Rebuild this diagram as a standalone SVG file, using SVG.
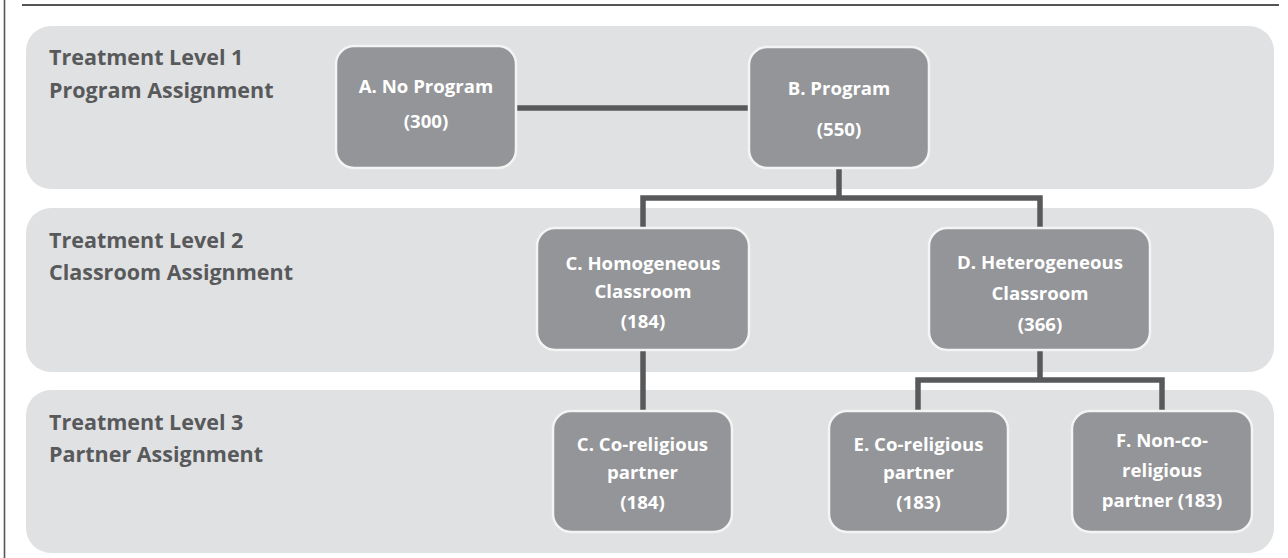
<svg xmlns="http://www.w3.org/2000/svg" width="1288" height="558" viewBox="0 0 1288 558">
<style>
.band{fill:#e0e1e3}
.node{fill:#939598;stroke:#f4f4f4;stroke-width:2.5}
.lbl{font-family:"Open Sans","Liberation Sans",sans-serif;font-weight:bold;font-size:21.5px;fill:#58595b}
.nt{font-family:"Open Sans","Liberation Sans",sans-serif;font-weight:bold;font-size:18.6px;fill:#ffffff;text-anchor:middle}
.conn{fill:none;stroke:#58595b;stroke-width:5.5;stroke-linejoin:miter}
</style>
<rect width="1288" height="558" fill="#ffffff"/>
<line x1="4.5" y1="0" x2="4.5" y2="558" stroke="#555555" stroke-width="1.6"/>
<line x1="22" y1="5" x2="1279" y2="5" stroke="#555555" stroke-width="2"/>
<g id="bands">
<rect class="band" x="26" y="26" width="1248" height="163" rx="25"/>
<rect class="band" x="26" y="208" width="1248" height="164" rx="25"/>
<rect class="band" x="26" y="390" width="1248" height="163" rx="25"/>
</g>
<g id="level-labels">
<text class="lbl" x="49" y="65">Treatment Level 1</text>
<text class="lbl" x="49" y="98">Program Assignment</text>
<text class="lbl" x="49" y="248">Treatment Level 2</text>
<text class="lbl" x="49" y="280">Classroom Assignment</text>
<text class="lbl" x="49" y="430">Treatment Level 3</text>
<text class="lbl" x="49" y="462">Partner Assignment</text>
</g>
<g id="connectors">
<line class="conn" x1="516" y1="108" x2="749" y2="108"/>
<polyline class="conn" points="643,228 643,198 1040,198 1040,228"/>
<line class="conn" x1="839" y1="168" x2="839" y2="198"/>
<line class="conn" x1="643" y1="350" x2="643" y2="411"/>
<line class="conn" x1="1040" y1="350" x2="1040" y2="380"/>
<polyline class="conn" points="918,411 918,380 1162,380 1162,411"/>
</g>
<g id="node-a">
<rect class="node" x="336" y="46" width="180" height="122" rx="18"/>
<text class="nt" x="426" y="93">A. No Program</text>
<text class="nt" x="426" y="128">(300)</text>
</g>
<g id="node-b">
<rect class="node" x="749" y="47" width="180" height="121" rx="18"/>
<text class="nt" x="839" y="95">B. Program</text>
<text class="nt" x="839" y="136">(550)</text>
</g>
<g id="node-c">
<rect class="node" x="537" y="228" width="212" height="122" rx="18"/>
<text class="nt" x="643" y="270">C. Homogeneous</text>
<text class="nt" x="643" y="298">Classroom</text>
<text class="nt" x="643" y="328">(184)</text>
</g>
<g id="node-d">
<rect class="node" x="929" y="228" width="221" height="122" rx="18"/>
<text class="nt" x="1040" y="269">D. Heterogeneous</text>
<text class="nt" x="1040" y="300">Classroom</text>
<text class="nt" x="1040" y="331">(366)</text>
</g>
<g id="node-c2">
<rect class="node" x="553" y="411" width="179" height="121" rx="18"/>
<text class="nt" x="642.5" y="451">C. Co-religious</text>
<text class="nt" x="642.5" y="479">partner</text>
<text class="nt" x="642.5" y="509">(184)</text>
</g>
<g id="node-e">
<rect class="node" x="829" y="411" width="179" height="121" rx="18"/>
<text class="nt" x="918.5" y="451">E. Co-religious</text>
<text class="nt" x="918.5" y="479">partner</text>
<text class="nt" x="918.5" y="509">(183)</text>
</g>
<g id="node-f">
<rect class="node" x="1072" y="411" width="180" height="121" rx="18"/>
<text class="nt" x="1162" y="447">F. Non-co-</text>
<text class="nt" x="1162" y="477">religious</text>
<text class="nt" x="1162" y="507">partner (183)</text>
</g>
</svg>
